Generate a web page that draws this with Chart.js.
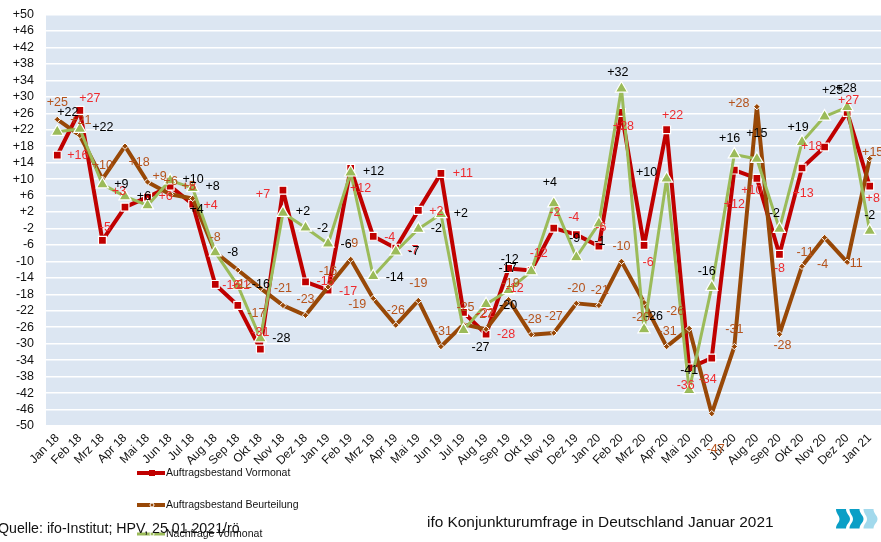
<!DOCTYPE html>
<html><head><meta charset="utf-8">
<style>html,body{margin:0;padding:0;background:#fff;overflow:hidden}canvas{display:block}</style>
<script src="https://cdn.jsdelivr.net/npm/chart.js@4"></script>
</head><body><canvas id="c" width="881" height="542"></canvas>
<script>
const months = ["Jan 18","Feb 18","Mrz 18","Apr 18","Mai 18","Jun 18","Jul 18","Aug 18","Sep 18","Okt 18","Nov 18","Dez 18","Jan 19","Feb 19","Mrz 19","Apr 19","Mai 19","Jun 19","Jul 19","Aug 19","Sep 19","Okt 19","Nov 19","Dez 19","Jan 20","Feb 20","Mrz 20","Apr 20","Mai 20","Jun 20","Jul 20","Aug 20","Sep 20","Okt 20","Nov 20","Dez 20","Jan 21"];
const yTicks = [50,46,42,38,34,30,26,22,18,14,10,6,2,-2,-6,-10,-14,-18,-22,-26,-30,-34,-38,-42,-46,-50];

const vormonat = [15.8,26.7,-4.9,3.2,5.6,8.3,3.9,-15.6,-20.7,-31.3,7.3,-15,-17,12.6,-3.9,-6.8,2.4,11.4,-22.4,-27.7,-11.7,-12.2,-1.9,-3.5,-6.3,26.2,-6.1,22,-35.9,-33.5,12.2,10.2,-8.3,12.7,17.8,26.2,8.3];
const beurteilung = [24.5,20.6,10,18,9.3,6.3,5.3,-7.8,-12.1,-16.5,-20.7,-23.1,-16.2,-9.5,-19,-25.5,-19.5,-30.7,-25.3,-26.5,-19.3,-27.8,-27.4,-20.2,-20.7,-10,-20,-30.7,-26.3,-47,-30.7,27.6,-27.7,-11.2,-4.2,-10.2,15];
const nachfrage = [21.5,22.2,8.7,5.8,3.6,9.7,7.8,-7.8,-15.9,-28.7,1.8,-1.8,-5.7,11.6,-13.6,-7.6,-2.1,1.5,-26.7,-20.4,-17,-12.4,4.1,-9,-0.8,32,-26.5,10.1,-41.3,-16.2,16,14.9,-2.1,19,25.2,27.5,-2.6];

const vormonatLabels = ["+16","+27","-5","+3","+6","+8","+4","-16","-21","-31","+7","-15","-17","+12","-4","-7","+2","+11","-22","-28","-12","-12","-2","-4","-6","+28","-6","+22","-36","-34","+12","+10","-8","+13","+18","+27","+8"];
const beurteilungLabels = ["+25","+21","+10","+18","+9","+6","+5","-8","-12","-17","-21","-23","-16","-9","-19","-26","-19","-31","-25","-27","-19","-28","-27","-20","-21","-10","-20","-31","-26","-47","-31","+28","-28","-11","-4","-11","+15"];
const nachfrageLabels = ["+22","+22","+9","+6","+4","+10","+8","-8","-16","-28","+2","-2","-6","+12","-14","-7","-2","+2","-27","-20","-17","-12","+4","-9","-1","+32","-26","+10","-41","-16","+16","+15","-2","+19","+25","+28","-2"];

const vormonatOffsets = [[20.5,0],[10,-12],[3,-13],[-6,-16],[18,-1],[19,0],[18,1],[16,1],[3,-20],[0,-17],[-20,4],[20,0],[20,1],[10,20],[16.5,1],[17,2],[18,1],[22,0],[22,1],[20,0],[6,20],[7.5,-17],[1,-16],[-2.6,-17],[2,-19],[2,14],[4,17],[6,-14],[-3.5,18],[-4,21],[0,34],[-5,12],[0,14],[1,26],[-13,0],[1.5,-12],[3,12]];
const beurteilungOffsets = [[0,-17],[1,-15],[0,-14],[14,16],[12,-5],[0.6,-13],[-4,-12],[0,-15],[5,15],[-4,25],[0,-17],[0,-16],[0,-15],[2,-16],[-16,6],[0,-15],[0,-17],[2,-15],[2,-17],[-2,-15],[2,-16],[1.5,-15],[0,-16],[0,-15],[1,-15],[0,-15],[-3,15],[1,-15],[-14,-17],[4,36],[0,-17],[-18,-3],[3,11],[3,-14],[-2,27],[7,1],[3,-6]];
const nachfrageOffsets = [[10.5,-19],[23,-1],[19,0],[19,0],[49,4],[23,-1],[20,-2],[17.5,0],[23,-1],[21,0],[20,-1],[17,1],[18,1],[23,-1],[21.5,1],[18,0],[18,0],[20,-1],[17,17],[22,1],[-1,-22],[-21.5,-12],[-4,-21],[-1.6,-19],[1,18],[-3.7,-16],[10,-13],[-20,-6],[0,-20],[-5,-15],[-4.6,-16],[0,-25],[-5,-15],[-4,-15],[8,-26],[-1,-19],[0,-15]];

const FONT = '"Liberation Sans", Arial, sans-serif';
const noPadding = () => ({left:0,top:0,right:0,bottom:0});

const decor = {
  id:'decor',
  beforeDraw(chart){
    const {ctx,chartArea:a}=chart;
    ctx.save();
    ctx.fillStyle='#dce6f2';
    ctx.fillRect(a.left,a.top,a.right-a.left,a.bottom-a.top);
    ctx.restore();
  },
  afterDatasetsDraw(chart){
    const {ctx}=chart;
    ctx.save();
    ctx.font='12.5px '+FONT;
    ctx.textAlign='center';ctx.textBaseline='middle';
    const sets=[[0,vormonatLabels,vormonatOffsets,'#ee2b2f'],[1,beurteilungLabels,beurteilungOffsets,'#b5531c'],[2,nachfrageLabels,nachfrageOffsets,'#000000']];
    for(const [ds,txt,off,col] of sets){
      const pts=chart.getDatasetMeta(ds).data;
      ctx.fillStyle=col;
      pts.forEach((p,i)=>ctx.fillText(txt[i],p.x+off[i][0],p.y+off[i][1]));
    }
    ctx.restore();
  },
  afterDraw(chart){
    const {ctx}=chart;
    ctx.save();
    const rows=[473,505,534];
    chart.data.datasets.forEach((d,i)=>{
      const y=rows[i];
      ctx.strokeStyle=d.borderColor;ctx.lineWidth=d.borderWidth;
      ctx.beginPath();ctx.moveTo(137,y);ctx.lineTo(165,y);ctx.stroke();
      ctx.fillStyle=d.pointBackgroundColor;ctx.strokeStyle='#fff';ctx.lineWidth=1;
      if(i===0){ctx.fillRect(149,y-3,6,6);}
      else{ctx.beginPath();ctx.arc(152,y,2,0,7);ctx.fill();ctx.stroke();}
      ctx.fillStyle='#111';ctx.font='10.5px '+FONT;ctx.textAlign='left';ctx.textBaseline='middle';
      ctx.fillText(d.label,166,y);
    });
    ctx.fillStyle='#111';ctx.textBaseline='alphabetic';
    ctx.font='14.2px '+FONT;
    ctx.fillText('Quelle: ifo-Institut; HPV, 25.01.2021/rö',-2,533);
    ctx.font='15.4px '+FONT;
    ctx.fillText('ifo Konjunkturumfrage in Deutschland Januar 2021',427,527);
    [[836,'#0a9fc6'],[849.5,'#0a9fc6'],[863.5,'#a2d9ec']].forEach(([x,c])=>{
      ctx.fillStyle=c;ctx.beginPath();
      ctx.moveTo(x,509);ctx.lineTo(x+10,509);
      ctx.bezierCurveTo(x+10,514,x+14,515,x+14,519);
      ctx.bezierCurveTo(x+14,523,x+10,524,x+10,528.5);
      ctx.lineTo(x,528.5);
      ctx.bezierCurveTo(x,524,x+3.5,523,x+3.5,519);
      ctx.bezierCurveTo(x+3.5,515,x,514,x,509);
      ctx.closePath();ctx.fill();
    });
    ctx.restore();
  }
};

new Chart(document.getElementById('c'),{
  type:'line',
  data:{labels:months,datasets:[
    {label:'Auftragsbestand Vormonat',data:vormonat,borderColor:'#c00000',backgroundColor:'#c00000',pointBackgroundColor:'#c00000',pointBorderColor:'#fff',pointBorderWidth:1.2,pointStyle:'rect',pointRadius:5.6,borderWidth:4,borderJoinStyle:'round',tension:0,clip:false,order:3},
    {label:'Auftragsbestand Beurteilung',data:beurteilung,borderColor:'#984807',backgroundColor:'#984807',pointBackgroundColor:'#984807',pointBorderColor:'#fff',pointBorderWidth:1,pointStyle:'rectRot',pointRadius:3.2,borderWidth:4,borderJoinStyle:'round',tension:0,clip:false,order:2},
    {label:'Nachfrage Vormonat',data:nachfrage,borderColor:'#9bbb59',backgroundColor:'#9bbb59',pointBackgroundColor:'#9bbb59',pointBorderColor:'#fff',pointBorderWidth:1.2,pointStyle:'triangle',pointRadius:7,borderWidth:3,borderJoinStyle:'round',tension:0,clip:false,order:1}
  ]},
  options:{
    responsive:false,animation:false,
    layout:{autoPadding:false,padding:{top:14.5,right:0,left:0,bottom:0}},
    plugins:{legend:{display:false},tooltip:{enabled:false},title:{display:false}},
    scales:{
      x:{offset:true,grid:{display:false,drawTicks:false},border:{display:false},
        afterFit(a){a.height=116;a.getPadding=noPadding;},
        ticks:{autoSkip:false,maxRotation:45,minRotation:45,padding:5,color:'#111',font:{family:FONT,size:12}}},
      y:{min:-50,max:50,
        afterFit(a){a.width=46;a.getPadding=noPadding;},
        afterBuildTicks(a){a.ticks=yTicks.map(v=>({value:v}));},
        grid:{color:'#ffffff',lineWidth:1.5,drawTicks:false},border:{display:false},
        ticks:{autoSkip:false,padding:12,color:'#111',font:{family:FONT,size:12.5},callback:v=>(v>0?'+':'')+v}}
    }
  },
  plugins:[decor]
});
</script></body></html>
